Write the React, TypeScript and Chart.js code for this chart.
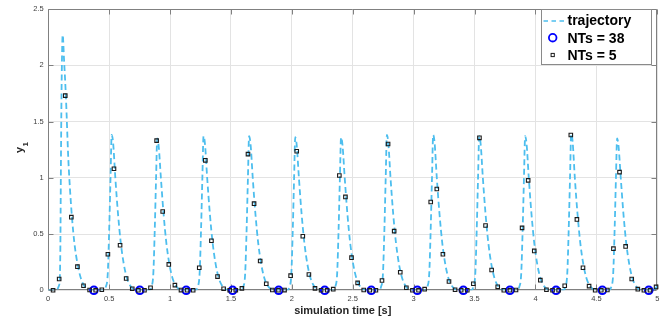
import React, { useEffect, useRef } from "react";
import { Chart, registerables } from "chart.js";

Chart.register(...registerables);

const X_TICKS = [0, 0.5, 1, 1.5, 2, 2.5, 3, 3.5, 4, 4.5, 5];
const Y_TICKS = [0, 0.5, 1, 1.5, 2, 2.5];

// trajectory samples [time, y1]
const trajectory: [number, number][] = [
  [0, 0], [0.05, 0], [0.075, 0.01], [0.088, 0.04], [0.095, 0.1], [0.1, 0.4], [0.105, 1.2], [0.111, 1.9], [0.119, 2.27], [0.13, 2.05], [0.145, 1.73], [0.165, 1.17], [0.18, 0.88], [0.195, 0.65], [0.215, 0.42], [0.245, 0.21], [0.27, 0.1], [0.295, 0.04], [0.32, 0.014], [0.35, 0.003], [0.38, 0],
  [0.451, 0], [0.473, 0.03], [0.489, 0.15], [0.501, 0.55], [0.512, 1.02], [0.521, 1.38], [0.533, 1.31], [0.551, 1.0], [0.573, 0.68], [0.596, 0.42], [0.621, 0.23], [0.646, 0.11], [0.671, 0.045], [0.701, 0.01], [0.741, 0],
  [0.825, 0], [0.847, 0.03], [0.863, 0.15], [0.875, 0.55], [0.886, 1.02], [0.895, 1.35], [0.907, 1.28], [0.925, 1.0], [0.947, 0.68], [0.97, 0.42], [0.995, 0.23], [1.02, 0.11], [1.045, 0.045], [1.075, 0.01], [1.115, 0],
  [1.205, 0], [1.227, 0.03], [1.243, 0.15], [1.255, 0.55], [1.266, 1.02], [1.275, 1.37], [1.287, 1.3], [1.305, 1.0], [1.327, 0.68], [1.35, 0.42], [1.375, 0.23], [1.4, 0.11], [1.425, 0.045], [1.455, 0.01], [1.495, 0],
  [1.579, 0], [1.601, 0.03], [1.617, 0.15], [1.629, 0.55], [1.64, 1.02], [1.649, 1.37], [1.661, 1.3], [1.679, 1.0], [1.701, 0.68], [1.724, 0.42], [1.749, 0.23], [1.774, 0.11], [1.799, 0.045], [1.829, 0.01], [1.869, 0],
  [1.958, 0], [1.98, 0.03], [1.996, 0.15], [2.008, 0.55], [2.019, 1.02], [2.028, 1.36], [2.04, 1.29], [2.058, 1.0], [2.08, 0.68], [2.103, 0.42], [2.128, 0.23], [2.153, 0.11], [2.178, 0.045], [2.208, 0.01], [2.248, 0],
  [2.334, 0], [2.356, 0.03], [2.372, 0.15], [2.384, 0.55], [2.395, 1.02], [2.404, 1.36], [2.416, 1.29], [2.434, 1.0], [2.456, 0.68], [2.479, 0.42], [2.504, 0.23], [2.529, 0.11], [2.554, 0.045], [2.584, 0.01], [2.624, 0],
  [2.71, 0], [2.732, 0.03], [2.748, 0.15], [2.76, 0.55], [2.771, 1.02], [2.78, 1.38], [2.792, 1.31], [2.81, 1.0], [2.832, 0.68], [2.855, 0.42], [2.88, 0.23], [2.905, 0.11], [2.93, 0.045], [2.96, 0.01], [3.0, 0],
  [3.09, 0], [3.112, 0.03], [3.128, 0.15], [3.14, 0.55], [3.151, 1.02], [3.16, 1.38], [3.172, 1.31], [3.19, 1.0], [3.212, 0.68], [3.235, 0.42], [3.26, 0.23], [3.285, 0.11], [3.31, 0.045], [3.34, 0.01], [3.38, 0],
  [3.468, 0], [3.49, 0.03], [3.506, 0.15], [3.518, 0.55], [3.529, 1.02], [3.538, 1.37], [3.55, 1.3], [3.568, 1.0], [3.59, 0.68], [3.613, 0.42], [3.638, 0.23], [3.663, 0.11], [3.688, 0.045], [3.718, 0.01], [3.758, 0],
  [3.845, 0], [3.867, 0.03], [3.883, 0.15], [3.895, 0.55], [3.906, 1.02], [3.915, 1.37], [3.927, 1.3], [3.945, 1.0], [3.967, 0.68], [3.99, 0.42], [4.015, 0.23], [4.04, 0.11], [4.065, 0.045], [4.095, 0.01], [4.135, 0],
  [4.223, 0], [4.245, 0.03], [4.261, 0.15], [4.273, 0.55], [4.284, 1.02], [4.293, 1.39], [4.305, 1.32], [4.323, 1.0], [4.345, 0.68], [4.368, 0.42], [4.393, 0.23], [4.418, 0.11], [4.443, 0.045], [4.473, 0.01], [4.513, 0],
  [4.6, 0], [4.622, 0.03], [4.638, 0.15], [4.65, 0.55], [4.661, 1.02], [4.67, 1.35], [4.682, 1.28], [4.7, 1.0], [4.722, 0.68], [4.745, 0.42], [4.77, 0.23], [4.795, 0.11], [4.82, 0.045], [4.85, 0.01], [4.89, 0],
  [4.97, 0.005], [5.0, 0.035],
];

// NTs = 38 samples
const nt38Times = [0.375, 0.752, 1.133, 1.514, 1.892, 2.27, 2.652, 3.03, 3.408, 3.79, 4.169, 4.549, 4.93];
const nt38Values = [0, 0, 0, 0, 0, 0, 0, 0, 0, 0, 0, 0, 0];

// NTs = 5 samples
const nt5Times = [
  0.04, 0.09, 0.14, 0.19, 0.24, 0.29, 0.34, 0.39, 0.44, 0.49,
  0.54, 0.59, 0.64, 0.69, 0.74, 0.79, 0.84, 0.89, 0.94, 0.99,
  1.04, 1.09, 1.14, 1.19, 1.24, 1.29, 1.34, 1.39, 1.44, 1.49,
  1.54, 1.59, 1.64, 1.69, 1.74, 1.79, 1.84, 1.89, 1.94, 1.99,
  2.04, 2.09, 2.14, 2.19, 2.24, 2.29, 2.34, 2.39, 2.44, 2.49,
  2.54, 2.59, 2.64, 2.69, 2.74, 2.79, 2.84, 2.89, 2.94, 2.99,
  3.04, 3.09, 3.14, 3.19, 3.24, 3.29, 3.34, 3.39, 3.44, 3.49,
  3.54, 3.59, 3.64, 3.69, 3.74, 3.79, 3.84, 3.89, 3.94, 3.99,
  4.04, 4.09, 4.14, 4.19, 4.24, 4.29, 4.34, 4.39, 4.44, 4.49,
  4.54, 4.59, 4.64, 4.69, 4.74, 4.79, 4.84, 4.89, 4.94, 4.99,
];
const nt5Values = [
  0, 0.1, 1.73, 0.65, 0.21, 0.04, 0.003, 0, 0.005, 0.32,
  1.08, 0.4, 0.105, 0.014, 0, 0, 0.023, 1.33, 0.7, 0.23,
  0.046, 0.002, 0, 0, 0.2, 1.155, 0.44, 0.122, 0.014, 0,
  0, 0.017, 1.21, 0.77, 0.26, 0.058, 0.003, 0, 0.002, 0.13,
  1.236, 0.48, 0.14, 0.017, 0, 0, 0.01, 1.02, 0.83, 0.29,
  0.066, 0.003, 0, 0, 0.087, 1.3, 0.526, 0.16, 0.023, 0,
  0, 0.01, 0.785, 0.9, 0.32, 0.078, 0.005, 0, 0, 0.058,
  1.355, 0.576, 0.18, 0.031, 0, 0, 0.003, 0.555, 0.977, 0.35,
  0.09, 0.005, 0, 0, 0.04, 1.38, 0.63, 0.2, 0.037, 0,
  0, 0.003, 0.37, 1.05, 0.39, 0.1, 0.01, 0, 0, 0.03,
];

const LINE_COLOR = "#4DBEEE";
const CIRCLE_COLOR = "#0000FF";
const SQUARE_COLOR = "#1a1a1a";
const AXIS_COLOR = "#808080";
const FONT = "'Liberation Sans', Arial, Helvetica, sans-serif";

const framePlugin = {
  id: "matlabFrame",
  beforeDatasetsDraw(chart: any) {
    const { ctx, chartArea: a, scales } = chart;
    ctx.save();
    ctx.strokeStyle = AXIS_COLOR;
    ctx.lineWidth = 1;
    ctx.beginPath();
    const L = Math.round(a.left) + 0.5;
    const R = Math.round(a.right) - 0.5;
    const T = Math.round(a.top) + 0.5;
    const B = Math.round(a.bottom) - 0.5;
    ctx.rect(L, T, R - L, B - T);
    const tl = 5;
    X_TICKS.forEach((v) => {
      const px = Math.round(scales.x.getPixelForValue(v)) + 0.5;
      ctx.moveTo(px, B);
      ctx.lineTo(px, B - tl);
      ctx.moveTo(px, T);
      ctx.lineTo(px, T + tl);
    });
    Y_TICKS.forEach((v) => {
      const py = Math.round(scales.y.getPixelForValue(v)) + 0.5;
      ctx.moveTo(L, py);
      ctx.lineTo(L + tl, py);
      ctx.moveTo(R, py);
      ctx.lineTo(R - tl, py);
    });
    ctx.stroke();
    ctx.restore();
  },
  afterDraw(chart: any) {
    const { ctx, chartArea: a } = chart;
    ctx.save();
    // x axis title
    ctx.fillStyle = "#262626";
    ctx.font = `bold 11px ${FONT}`;
    ctx.textAlign = "center";
    ctx.textBaseline = "alphabetic";
    ctx.fillText("simulation time [s]", (a.left + a.right) / 2 - 10, 314);
    // y axis title with subscript
    ctx.save();
    ctx.translate(23, 153);
    ctx.rotate(-Math.PI / 2);
    ctx.textAlign = "left";
    ctx.font = `bold 11px ${FONT}`;
    ctx.fillText("y", 0, 0);
    const w = ctx.measureText("y").width;
    ctx.font = `bold 8px ${FONT}`;
    ctx.fillText("1", w + 0.5, 5);
    ctx.restore();

    // legend
    const bx = 541.5, by = 9.5, bw = 110, bh = 55;
    ctx.fillStyle = "#ffffff";
    ctx.fillRect(bx, by, bw, bh);
    ctx.strokeStyle = "#8a8a8a";
    ctx.lineWidth = 1;
    ctx.strokeRect(bx, by, bw, bh);
    const mx = 552.7;
    const tx = 567.5;
    // row 1 dashed line
    ctx.save();
    ctx.strokeStyle = LINE_COLOR;
    ctx.lineWidth = 1.7;
    ctx.setLineDash([4.5, 3.5]);
    ctx.beginPath();
    ctx.moveTo(543.5, 21);
    ctx.lineTo(567, 21);
    ctx.stroke();
    ctx.restore();
    // row 2 circle
    ctx.strokeStyle = CIRCLE_COLOR;
    ctx.lineWidth = 1.8;
    ctx.beginPath();
    ctx.arc(mx, 37.7, 3.8, 0, Math.PI * 2);
    ctx.stroke();
    // row 3 square
    ctx.strokeStyle = SQUARE_COLOR;
    ctx.lineWidth = 1;
    ctx.strokeRect(mx - 1.6, 55 - 1.6, 3.2, 3.2);
    ctx.fillStyle = "#000000";
    ctx.font = `bold 14px ${FONT}`;
    ctx.textAlign = "left";
    ctx.textBaseline = "alphabetic";
    ctx.fillText("trajectory", tx, 25.3);
    ctx.fillText("NTs = 38", tx, 42.8);
    ctx.fillText("NTs = 5", tx, 60.3);
    ctx.restore();
  },
};

export default function App() {
  const canvasRef = useRef<HTMLCanvasElement | null>(null);

  useEffect(() => {
    document.body.style.margin = "0";
    const canvas = canvasRef.current;
    if (!canvas) return;
    const fmt = (v: any) => String(Math.round(Number(v) * 10) / 10);
    const chart = new Chart(canvas, {
      type: "scatter",
      data: {
        datasets: [
          {
            label: "trajectory",
            data: trajectory.map(([x, y]) => ({ x, y })),
            showLine: true,
            borderColor: LINE_COLOR,
            backgroundColor: LINE_COLOR,
            borderWidth: 1.8,
            borderDash: [6, 3.5],
            pointRadius: 0,
            cubicInterpolationMode: "monotone",
            fill: false,
            order: 3,
          } as any,
          {
            label: "NTs = 38",
            data: nt38Times.map((x, i) => ({ x, y: nt38Values[i] })),
            showLine: false,
            pointStyle: "circle",
            pointRadius: 3.8,
            pointBorderWidth: 2,
            pointBorderColor: CIRCLE_COLOR,
            pointBackgroundColor: "rgba(0,0,0,0)",
            borderColor: CIRCLE_COLOR,
            clip: false,
            order: 2,
          } as any,
          {
            label: "NTs = 5",
            data: nt5Times.map((x, i) => ({ x, y: nt5Values[i] })),
            showLine: false,
            pointStyle: "rect",
            pointRadius: 2.5,
            pointBorderWidth: 1.1,
            pointBorderColor: SQUARE_COLOR,
            pointBackgroundColor: "rgba(0,0,0,0)",
            borderColor: SQUARE_COLOR,
            clip: false,
            order: 1,
          } as any,
        ],
      },
      options: {
        animation: false,
        responsive: false,
        events: [],
        layout: { padding: { left: 0, right: 7.7, top: 3.7, bottom: 0 } },
        plugins: { legend: { display: false }, tooltip: { enabled: false } },
        scales: {
          x: {
            type: "linear",
            min: 0,
            max: 5,
            afterBuildTicks: (s: any) => {
              s.ticks = X_TICKS.map((value) => ({ value }));
            },
            afterFit: (s: any) => {
              s.height = 36.7;
            },
            ticks: {
              callback: fmt,
              font: { size: 7.5, family: FONT },
              color: "#404040",
              padding: 4,
              maxRotation: 0,
              autoSkip: false,
            },
            grid: { color: "#e3e3e3", drawTicks: false, lineWidth: 1 },
            border: { display: false },
          },
          y: {
            type: "linear",
            min: 0,
            max: 2.5,
            afterBuildTicks: (s: any) => {
              s.ticks = Y_TICKS.map((value) => ({ value }));
            },
            afterFit: (s: any) => {
              s.width = 48.2;
            },
            ticks: {
              callback: fmt,
              font: { size: 7.5, family: FONT },
              color: "#404040",
              padding: 4.5,
              autoSkip: false,
            },
            grid: { color: "#e3e3e3", drawTicks: false, lineWidth: 1 },
            border: { display: false },
          },
        },
      } as any,
      plugins: [framePlugin],
    });
    return () => chart.destroy();
  }, []);

  return (
    <div style={{ width: 665, height: 327, position: "relative", background: "#fff" }}>
      <canvas ref={canvasRef} width={665} height={327} style={{ display: "block" }} />
    </div>
  );
}
